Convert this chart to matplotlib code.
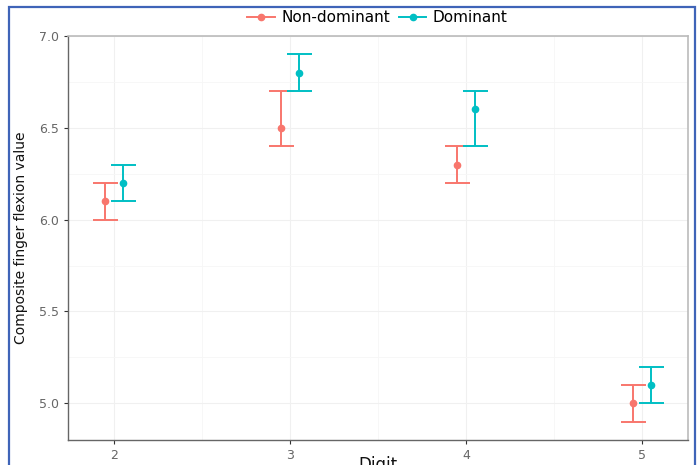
import matplotlib.pyplot as plt
from matplotlib.patches import Rectangle
from matplotlib.lines import Line2D

# data
digits = [2, 3, 4, 5]
nondom_mean = [6.1, 6.5, 6.3, 5.0]
nondom_low = [6.0, 6.4, 6.2, 4.9]
nondom_high = [6.2, 6.7, 6.4, 5.1]
dom_mean = [6.2, 6.8, 6.6, 5.1]
dom_low = [6.1, 6.7, 6.4, 5.0]
dom_high = [6.3, 6.9, 6.7, 5.2]

red = '#F8766D'
teal = '#00BFC4'
dodge = 0.05

fig = plt.figure(figsize=(6.99, 4.65), dpi=100)
ax = fig.add_axes([68/699, 25/465, 620/699, 404/465])

def draw(means, lows, highs, off, col):
    xs = [d + off for d in digits]
    err = [[m - l for m, l in zip(means, lows)], [h - m for m, h in zip(means, highs)]]
    ax.errorbar(xs, means, yerr=err, fmt='o', color=col, ms=4.5, elinewidth=1.4,
                capsize=9, capthick=1.4, zorder=3)

draw(nondom_mean, nondom_low, nondom_high, -dodge, red)
draw(dom_mean, dom_low, dom_high, dodge, teal)

ax.set_xlim(1.74, 5.26)
ax.set_ylim(4.8, 7.0)
ax.set_xticks(digits)
ax.set_xticks([2.5, 3.5, 4.5], minor=True)
ax.set_yticks([5.0, 5.5, 6.0, 6.5, 7.0])
ax.set_yticklabels(['5.0', '5.5', '6.0', '6.5', '7.0'])
ax.set_yticks([5.25, 5.75, 6.25, 6.75], minor=True)
ax.grid(which='major', color='#f0f0f0', lw=0.8)
ax.grid(which='minor', color='#f6f6f6', lw=0.6)
ax.set_axisbelow(True)
ax.tick_params(which='minor', length=0)
ax.tick_params(which='major', length=3, color='#333333', labelsize=9, labelcolor='#666666')

for s in ['left', 'bottom']:
    ax.spines[s].set_color('#666666')
    ax.spines[s].set_linewidth(1.0)
for s in ['top', 'right']:
    ax.spines[s].set_color('#bbbbbb')
    ax.spines[s].set_linewidth(1.2)

ax.set_ylabel('Composite finger flexion value', fontsize=10, color='#111111', labelpad=8)

handles = [Line2D([], [], color=red, marker='o', ms=4.5, lw=1.4),
           Line2D([], [], color=teal, marker='o', ms=4.5, lw=1.4)]
fig.legend(handles, ['Non-dominant', 'Dominant'], loc='center', bbox_to_anchor=(0.54, 447/465),
           ncol=2, frameon=False, fontsize=11, handlelength=1.8, columnspacing=0.6,
           handletextpad=0.4)

fig.text(378/699, 9/465, 'Digit', ha='center', va='top', fontsize=12, color='#111111')

# blue frame round the picture
fig.patches.append(Rectangle((9/699, -0.05), 686/699, 1.05 - 7/465, transform=fig.transFigure,
                             fill=False, edgecolor='#3f64b8', lw=1.6))

fig.savefig('out.png', dpi=100)
